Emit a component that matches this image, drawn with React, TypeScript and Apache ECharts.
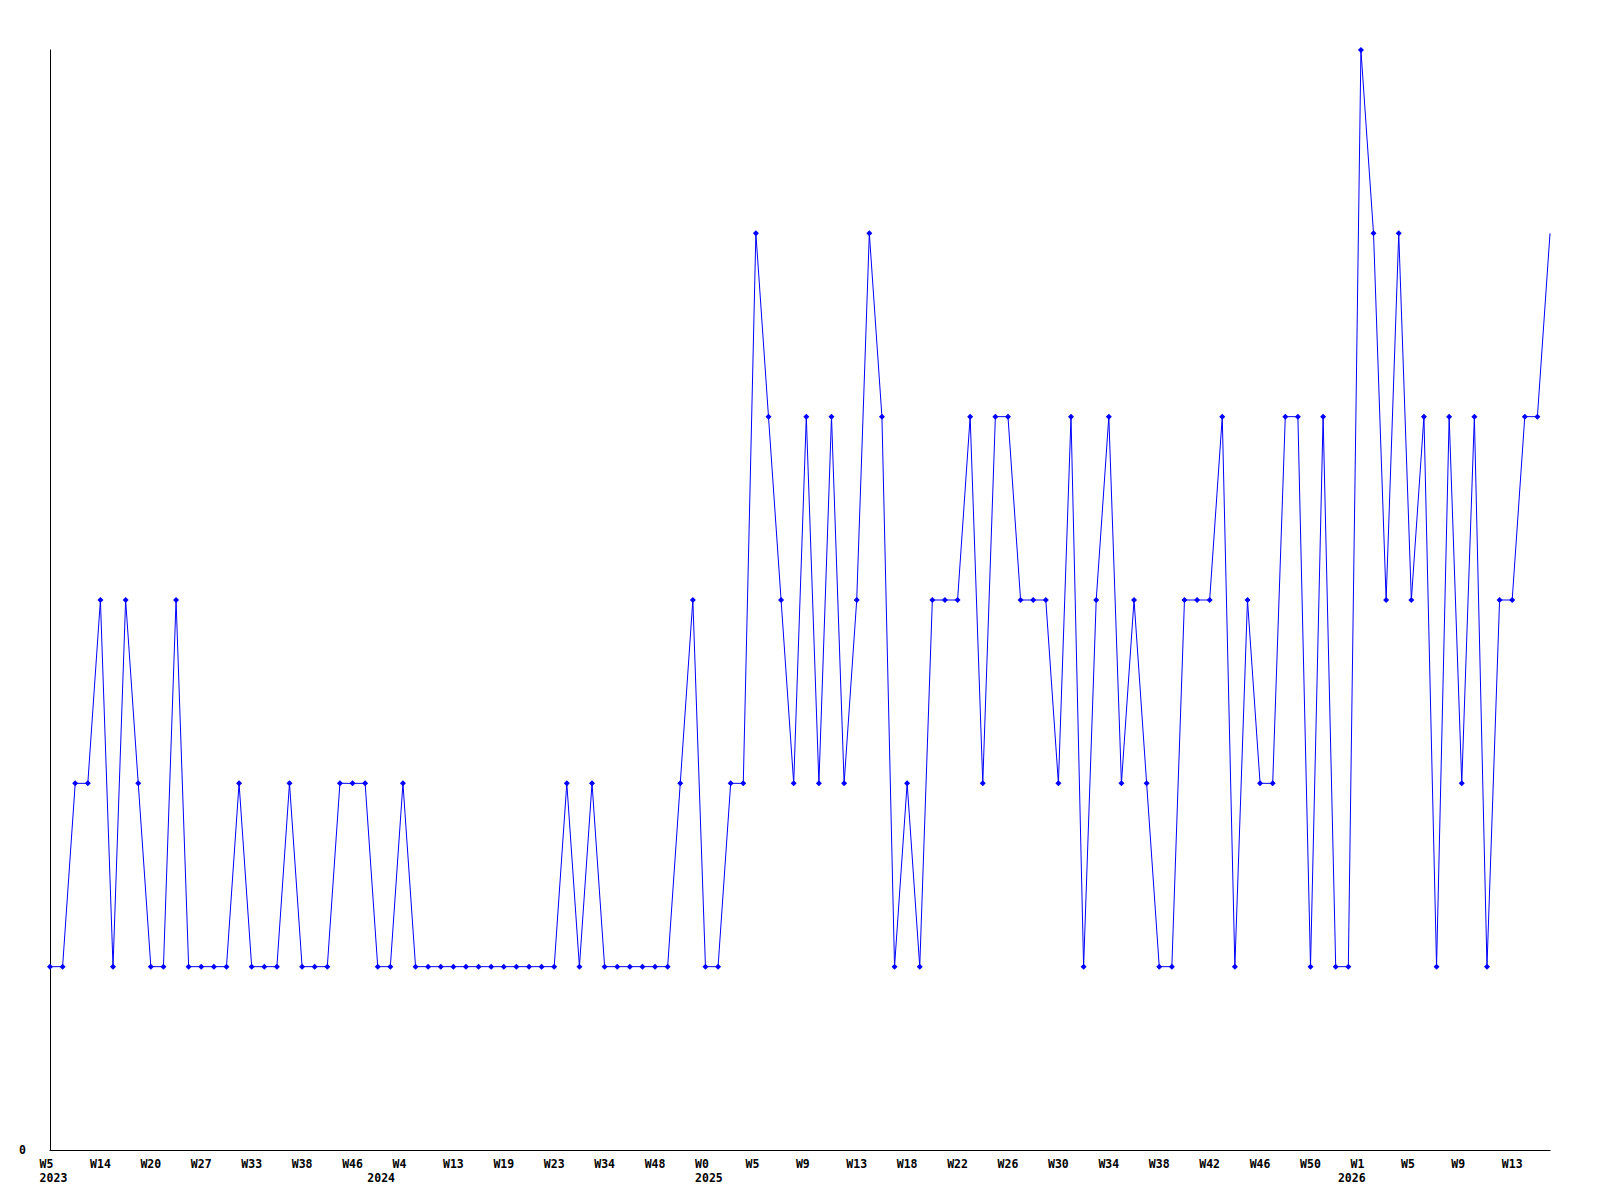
import React, { useEffect, useRef } from "react";
import * as echarts from "echarts";

// Values per data point (120 points)
const values: number[] = [
  1, 1, 2, 2, 3, 1, 3, 2, 1, 1,
  3, 1, 1, 1, 1, 2, 1, 1, 1, 2,
  1, 1, 1, 2, 2, 2, 1, 1, 2, 1,
  1, 1, 1, 1, 1, 1, 1, 1, 1, 1,
  1, 2, 1, 2, 1, 1, 1, 1, 1, 1,
  2, 3, 1, 1, 2, 2, 5, 4, 3, 2,
  4, 2, 4, 2, 3, 5, 4, 1, 2, 1,
  3, 3, 3, 4, 2, 4, 4, 3, 3, 3,
  2, 4, 1, 3, 4, 2, 3, 2, 1, 1,
  3, 3, 3, 4, 1, 3, 2, 2, 4, 4,
  1, 4, 1, 1, 6, 5, 3, 5, 3, 4,
  1, 4, 2, 4, 1, 3, 3, 4, 4, 5,
];

// Week tick labels, one for every 4th point
const weekTicks: string[] = [
  "W5", "W14", "W20", "W27", "W33", "W38", "W46", "W4", "W13", "W19",
  "W23", "W34", "W48", "W0", "W5", "W9", "W13", "W18", "W22", "W26",
  "W30", "W34", "W38", "W42", "W46", "W50", "W1", "W5", "W9", "W13",
];
const weekTickStep = 4;

// Year labels and the point at which each year begins
const yearNames: string[] = ["2023", "2024", "2025", "2026"];
const yearStartPoints: number[] = [0, 26, 52, 103];

const NB = "\u00a0";
const FONT = "'DejaVu Sans Mono', 'Liberation Mono', monospace";

export default function App() {
  const ref = useRef<HTMLDivElement>(null);

  useEffect(() => {
    if (!ref.current) return;
    const chart = echarts.init(ref.current, undefined, { renderer: "svg" });

    const weekCats = values.map((_, i) => {
      if (i % weekTickStep !== 0) return "";
      const t = weekTicks[i / weekTickStep] || "";
      return t.length < 3 ? t + NB.repeat(3 - t.length) : t;
    });
    const yearCats = values.map((_, i) => {
      const k = yearStartPoints.indexOf(i);
      return k >= 0 ? NB + yearNames[k] : "";
    });

    const seriesData = values.map((v, i) =>
      i === values.length - 1 ? { value: v, symbol: "none" } : v
    );

    const labelStyle = {
      color: "#000",
      fontFamily: FONT,
      fontWeight: "bold" as const,
      fontSize: 11.5,
    };

    chart.setOption({
      animation: false,
      backgroundColor: "#fff",
      grid: { left: 50, right: 50, top: 50, bottom: 50, containLabel: false },
      xAxis: [
        {
          type: "category",
          data: weekCats,
          boundaryGap: false,
          axisLine: { show: true, lineStyle: { color: "#000", width: 1 } },
          axisTick: { show: false },
          splitLine: { show: false },
          axisLabel: {
            ...labelStyle,
            interval: weekTickStep - 1,
            margin: 8,
            align: "center",
          },
        },
        {
          type: "category",
          data: yearCats,
          boundaryGap: false,
          position: "bottom",
          offset: 14,
          axisLine: { show: false },
          axisTick: { show: false },
          splitLine: { show: false },
          axisLabel: {
            ...labelStyle,
            interval: 0,
            margin: 8,
            align: "center",
          },
        },
      ],
      yAxis: {
        type: "value",
        min: 0,
        max: 6,
        interval: 6,
        axisLine: { show: true, lineStyle: { color: "#000", width: 1 } },
        axisTick: { show: false },
        splitLine: { show: false },
        axisLabel: {
          ...labelStyle,
          margin: 24,
          formatter: (v: number) => (v === 0 ? "0" : ""),
        },
      },
      series: [
        {
          type: "line",
          data: seriesData,
          xAxisIndex: 0,
          yAxisIndex: 0,
          symbol: "diamond",
          symbolSize: 6,
          showAllSymbol: true,
          lineStyle: { color: "#0000ff", width: 1 },
          itemStyle: { color: "#0000ff" },
        },
      ],
    });

    return () => chart.dispose();
  }, []);

  return (
    <div
      ref={ref}
      style={{ position: "fixed", left: 0, top: 0, width: 1600, height: 1200, background: "#fff" }}
    />
  );
}
